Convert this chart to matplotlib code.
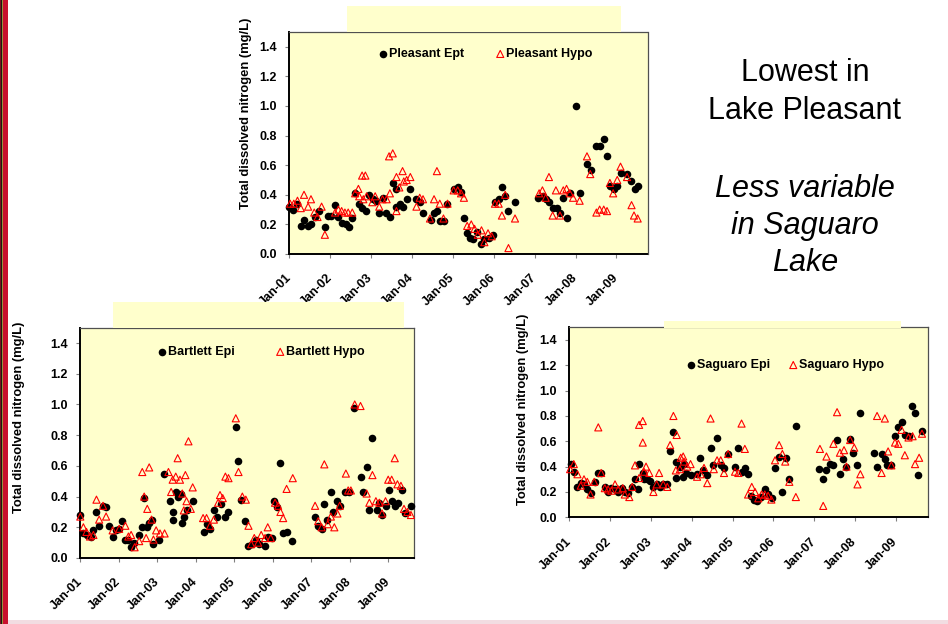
import matplotlib
matplotlib.use("Agg")
import matplotlib.pyplot as plt
from matplotlib.patches import Rectangle

plt.rcParams['font.family'] = ['Liberation Sans', 'DejaVu Sans']

# ---------------- data: total dissolved nitrogen (mg/L), decimal years ----------------
pl_epi_t = [2001.00, 2001.10, 2001.20, 2001.28, 2001.37, 2001.45, 2001.54, 2001.62, 2001.73, 2001.88, 2001.95,
            2002.03, 2002.12, 2002.20, 2002.28, 2002.38, 2002.46, 2002.54, 2002.61, 2002.71, 2002.77, 2002.87, 2002.96,
            2003.04, 2003.13, 2003.20, 2003.28, 2003.36, 2003.46, 2003.53, 2003.61, 2003.62, 2003.70, 2003.79, 2003.87, 2003.96,
            2004.10, 2004.19, 2004.27, 2004.46, 2004.54, 2004.62, 2004.68, 2004.79, 2004.86,
            2005.02, 2005.12, 2005.20, 2005.28, 2005.35, 2005.42, 2005.50, 2005.58, 2005.68, 2005.77, 2005.89, 2005.97,
            2006.03, 2006.12, 2006.19, 2006.27, 2006.36, 2006.52,
            2007.09, 2007.21, 2007.27, 2007.35, 2007.44, 2007.55, 2007.62, 2007.70, 2007.79, 2007.86,
            2008.02, 2008.10, 2008.27, 2008.37, 2008.51, 2008.59, 2008.69, 2008.77, 2008.84, 2008.93,
            2009.02, 2009.10, 2009.26, 2009.36, 2009.45, 2009.53]
pl_epi_v = [0.32, 0.30, 0.34, 0.19, 0.23, 0.19, 0.20, 0.25, 0.29, 0.18, 0.26,
            0.26, 0.33, 0.25, 0.21, 0.20, 0.18, 0.24, 0.41, 0.34, 0.31, 0.29, 0.40,
            0.37, 0.36, 0.28, 0.38, 0.28, 0.25, 0.48, 0.44, 0.32, 0.34, 0.32, 0.37, 0.44,
            0.37, 0.35, 0.28, 0.23, 0.28, 0.29, 0.22, 0.22, 0.34,
            0.44, 0.45, 0.42, 0.24, 0.14, 0.11, 0.10, 0.15, 0.07, 0.10, 0.11, 0.13,
            0.35, 0.37, 0.45, 0.39, 0.29, 0.35,
            0.38, 0.39, 0.37, 0.35, 0.31, 0.31, 0.28, 0.38, 0.24, 0.41,
            1.00, 0.41, 0.61, 0.57, 0.73, 0.73, 0.78, 0.66, 0.46, 0.44,
            0.46, 0.55, 0.54, 0.49, 0.44, 0.46]

pl_hypo_t = [2001.02, 2001.11, 2001.20, 2001.28, 2001.36, 2001.46, 2001.53, 2001.61, 2001.69, 2001.79, 2001.87,
             2002.12, 2002.20, 2002.28, 2002.36, 2002.44, 2002.54, 2002.61, 2002.69, 2002.71, 2002.78, 2002.81, 2002.86, 2002.89,
             2003.03, 2003.10, 2003.20, 2003.28, 2003.38, 2003.44, 2003.46, 2003.53, 2003.62, 2003.62, 2003.69, 2003.77, 2003.80, 2003.87, 2003.96,
             2004.11, 2004.19, 2004.27, 2004.44, 2004.54, 2004.61, 2004.68, 2004.77, 2004.87,
             2005.02, 2005.12, 2005.20, 2005.27, 2005.35, 2005.45, 2005.53, 2005.61, 2005.70, 2005.77, 2005.86, 2005.95,
             2006.03, 2006.12, 2006.20, 2006.28, 2006.36, 2006.52,
             2007.11, 2007.19, 2007.27, 2007.35, 2007.44, 2007.52, 2007.62, 2007.70, 2007.78, 2007.86, 2007.94,
             2008.10, 2008.28, 2008.36, 2008.51, 2008.59, 2008.69, 2008.77, 2008.84, 2008.92,
             2009.02, 2009.10, 2009.26, 2009.37, 2009.43, 2009.52]
pl_hypo_v = [0.34, 0.34, 0.36, 0.31, 0.40, 0.32, 0.37, 0.28, 0.25, 0.32, 0.13,
             0.28, 0.30, 0.29, 0.28, 0.28, 0.28, 0.41, 0.44, 0.39, 0.53, 0.37, 0.53, 0.39,
             0.35, 0.39, 0.32, 0.37, 0.37, 0.66, 0.41, 0.68, 0.29, 0.52, 0.45, 0.56, 0.49, 0.50, 0.52,
             0.32, 0.38, 0.37, 0.24, 0.37, 0.56, 0.34, 0.24, 0.34,
             0.43, 0.43, 0.41, 0.38, 0.19, 0.20, 0.17, 0.13, 0.16, 0.08, 0.14, 0.12,
             0.34, 0.34, 0.26, 0.40, 0.04, 0.24,
             0.41, 0.43, 0.38, 0.52, 0.26, 0.43, 0.26, 0.43, 0.44, 0.41, 0.38,
             0.36, 0.66, 0.54, 0.28, 0.30, 0.30, 0.29, 0.48, 0.41,
             0.50, 0.59, 0.52, 0.33, 0.26, 0.24]

ba_epi_t = [2001.00, 2001.08, 2001.18, 2001.27, 2001.34, 2001.42, 2001.49, 2001.59, 2001.68, 2001.75, 2001.84, 2001.94,
            2002.01, 2002.08, 2002.15, 2002.24, 2002.32, 2002.39, 2002.53, 2002.61, 2002.66, 2002.72, 2002.79, 2002.85, 2002.90,
            2003.04, 2003.17, 2003.33, 2003.40, 2003.42, 2003.48, 2003.53, 2003.61, 2003.64, 2003.69, 2003.76, 2003.92,
            2004.21, 2004.28, 2004.37, 2004.47, 2004.56, 2004.65, 2004.77, 2004.85,
            2005.04, 2005.11, 2005.18, 2005.28, 2005.37, 2005.47, 2005.56, 2005.64, 2005.81, 2005.88, 2005.97,
            2006.04, 2006.12, 2006.20, 2006.27, 2006.36, 2006.51,
            2007.10, 2007.18, 2007.27, 2007.34, 2007.42, 2007.51, 2007.57, 2007.68, 2007.74, 2007.89, 2007.99,
            2008.12, 2008.28, 2008.35, 2008.44, 2008.51, 2008.59, 2008.70, 2008.77, 2008.85, 2008.94,
            2009.01, 2009.09, 2009.17, 2009.26, 2009.35, 2009.43, 2009.59]
ba_epi_v = [0.28, 0.16, 0.15, 0.14, 0.18, 0.30, 0.21, 0.34, 0.33, 0.21, 0.14, 0.18,
            0.19, 0.24, 0.12, 0.12, 0.07, 0.10, 0.15, 0.20, 0.39, 0.20, 0.23, 0.25, 0.09,
            0.12, 0.55, 0.37, 0.25, 0.30, 0.43, 0.40, 0.42, 0.23, 0.27, 0.31, 0.37,
            0.17, 0.22, 0.19, 0.31, 0.27, 0.35, 0.27, 0.30,
            0.85, 0.63, 0.38, 0.24, 0.08, 0.09, 0.12, 0.09, 0.08, 0.14, 0.13,
            0.37, 0.33, 0.62, 0.16, 0.17, 0.11,
            0.27, 0.21, 0.19, 0.35, 0.25, 0.43, 0.30, 0.37, 0.34, 0.43, 0.43,
            0.98, 0.53, 0.43, 0.59, 0.31, 0.78, 0.31, 0.36, 0.28, 0.34,
            0.44, 0.37, 0.34, 0.36, 0.44, 0.29, 0.34]

ba_hypo_t = [2001.00, 2001.08, 2001.16, 2001.25, 2001.34, 2001.42, 2001.49, 2001.59, 2001.67, 2001.84,
             2002.01, 2002.17, 2002.25, 2002.32, 2002.41, 2002.53, 2002.61, 2002.66, 2002.71, 2002.74, 2002.79, 2002.85, 2002.90, 2002.97,
             2003.07, 2003.19, 2003.29, 2003.36, 2003.40, 2003.48, 2003.53, 2003.59, 2003.65, 2003.69, 2003.73, 2003.76, 2003.81, 2003.87, 2003.92,
             2004.19, 2004.28, 2004.37, 2004.47, 2004.58, 2004.63, 2004.70, 2004.77, 2004.85,
             2005.04, 2005.11, 2005.21, 2005.30, 2005.37, 2005.44, 2005.52, 2005.62, 2005.70, 2005.80, 2005.87, 2005.95,
             2006.06, 2006.14, 2006.20, 2006.27, 2006.36, 2006.52,
             2007.10, 2007.18, 2007.27, 2007.34, 2007.43, 2007.51, 2007.60, 2007.68, 2007.74, 2007.90, 2007.96,
             2008.03, 2008.13, 2008.28, 2008.44, 2008.51, 2008.59, 2008.68, 2008.77, 2008.84, 2008.93,
             2009.00, 2009.09, 2009.17, 2009.24, 2009.33, 2009.41, 2009.50, 2009.59]
ba_hypo_v = [0.27, 0.20, 0.17, 0.14, 0.15, 0.38, 0.25, 0.34, 0.27, 0.18,
             0.19, 0.21, 0.14, 0.15, 0.07, 0.11, 0.56, 0.40, 0.13, 0.32, 0.59, 0.25, 0.12, 0.18,
             0.16, 0.16, 0.56, 0.43, 0.51, 0.53, 0.65, 0.51, 0.42, 0.31, 0.54, 0.37, 0.76, 0.32, 0.46,
             0.26, 0.26, 0.21, 0.25, 0.36, 0.41, 0.39, 0.53, 0.52,
             0.91, 0.56, 0.40, 0.38, 0.21, 0.09, 0.13, 0.10, 0.15, 0.13, 0.20, 0.13,
             0.36, 0.34, 0.30, 0.26, 0.45, 0.52,
             0.34, 0.24, 0.20, 0.61, 0.22, 0.27, 0.20, 0.29, 0.34, 0.55, 0.44,
             0.44, 1.00, 0.99, 0.42, 0.36, 0.54, 0.37, 0.36, 0.29, 0.37,
             0.51, 0.51, 0.65, 0.48, 0.47, 0.32, 0.30, 0.28]

sa_epi_t = [2001.03, 2001.11, 2001.20, 2001.28, 2001.36, 2001.44, 2001.52, 2001.63, 2001.71, 2001.78, 2001.87, 2001.95,
            2002.03, 2002.12, 2002.20, 2002.28, 2002.36, 2002.44, 2002.54, 2002.61, 2002.69, 2002.71, 2002.80, 2002.83, 2002.91, 2002.98,
            2003.06, 2003.14, 2003.22, 2003.30, 2003.40, 2003.47, 2003.53, 2003.61, 2003.61, 2003.71, 2003.79, 2003.81, 2003.87, 2003.97,
            2004.13, 2004.20, 2004.28, 2004.38, 2004.46, 2004.53, 2004.63, 2004.71, 2004.79, 2004.89,
            2005.06, 2005.14, 2005.22, 2005.30, 2005.38, 2005.44, 2005.52, 2005.60, 2005.70, 2005.79, 2005.87, 2005.96,
            2006.04, 2006.13, 2006.22, 2006.31, 2006.39, 2006.55,
            2007.12, 2007.22, 2007.30, 2007.38, 2007.47, 2007.55, 2007.63, 2007.71, 2007.79, 2007.88, 2007.96,
            2008.05, 2008.13, 2008.46, 2008.54, 2008.65, 2008.73, 2008.79, 2008.87, 2008.98,
            2009.06, 2009.14, 2009.22, 2009.31, 2009.39, 2009.47, 2009.55, 2009.64]
sa_epi_v = [0.42, 0.36, 0.24, 0.27, 0.26, 0.22, 0.19, 0.28, 0.35, 0.35, 0.24, 0.20,
            0.23, 0.22, 0.20, 0.23, 0.20, 0.19, 0.24, 0.30, 0.22, 0.42, 0.35, 0.30, 0.30, 0.29,
            0.24, 0.26, 0.24, 0.26, 0.26, 0.52, 0.67, 0.44, 0.31, 0.40, 0.32, 0.42, 0.35, 0.33,
            0.34, 0.47, 0.37, 0.33, 0.55, 0.41, 0.63, 0.41, 0.39, 0.50,
            0.40, 0.55, 0.36, 0.39, 0.34, 0.17, 0.14, 0.13, 0.16, 0.22, 0.18, 0.15,
            0.39, 0.48, 0.20, 0.47, 0.30, 0.72,
            0.38, 0.30, 0.37, 0.42, 0.41, 0.61, 0.34, 0.46, 0.40, 0.62, 0.51,
            0.41, 0.82, 0.51, 0.40, 0.50, 0.46, 0.41, 0.41, 0.64,
            0.71, 0.75, 0.65, 0.64, 0.88, 0.82, 0.33, 0.68]

sa_hypo_t = [2001.02, 2001.11, 2001.20, 2001.28, 2001.36, 2001.44, 2001.52, 2001.61, 2001.71, 2001.78, 2001.87, 2001.95,
             2002.03, 2002.12, 2002.20, 2002.31, 2002.36, 2002.47, 2002.54, 2002.61, 2002.71, 2002.71, 2002.80, 2002.80, 2002.83, 2002.88, 2002.96,
             2003.06, 2003.14, 2003.20, 2003.30, 2003.40, 2003.47, 2003.55, 2003.61, 2003.63, 2003.71, 2003.73, 2003.79, 2003.81, 2003.89, 2003.97,
             2004.13, 2004.22, 2004.30, 2004.38, 2004.46, 2004.54, 2004.62, 2004.71, 2004.79, 2004.89,
             2005.06, 2005.14, 2005.22, 2005.30, 2005.38, 2005.47, 2005.55, 2005.63, 2005.71, 2005.79, 2005.87, 2005.95,
             2006.04, 2006.14, 2006.22, 2006.29, 2006.39, 2006.55,
             2007.14, 2007.22, 2007.30, 2007.47, 2007.56, 2007.63, 2007.73, 2007.79, 2007.88, 2007.98,
             2008.06, 2008.13, 2008.54, 2008.65, 2008.73, 2008.81, 2008.89, 2008.98,
             2009.06, 2009.14, 2009.22, 2009.31, 2009.41, 2009.47, 2009.57, 2009.64]
sa_hypo_v = [0.38, 0.42, 0.34, 0.25, 0.30, 0.28, 0.18, 0.28, 0.71, 0.35, 0.23, 0.22,
             0.21, 0.26, 0.22, 0.23, 0.18, 0.16, 0.24, 0.41, 0.73, 0.31, 0.76, 0.59, 0.36, 0.40, 0.35,
             0.20, 0.26, 0.35, 0.26, 0.24, 0.57, 0.80, 0.37, 0.65, 0.38, 0.47, 0.48, 0.44, 0.40, 0.42,
             0.32, 0.34, 0.39, 0.27, 0.78, 0.38, 0.45, 0.45, 0.35, 0.50,
             0.36, 0.35, 0.74, 0.54, 0.18, 0.24, 0.20, 0.15, 0.18, 0.18, 0.17, 0.14,
             0.45, 0.57, 0.50, 0.44, 0.28, 0.16,
             0.54, 0.09, 0.48, 0.58, 0.83, 0.51, 0.53, 0.40, 0.61, 0.55,
             0.26, 0.34, 0.80, 0.35, 0.78, 0.52, 0.41, 0.59,
             0.58, 0.69, 0.49, 0.63, 0.64, 0.42, 0.47, 0.66]

year_ticks = [2001, 2002, 2003, 2004, 2005, 2006, 2007, 2008, 2009]
year_labels = ['Jan-01', 'Jan-02', 'Jan-03', 'Jan-04', 'Jan-05', 'Jan-06', 'Jan-07', 'Jan-08', 'Jan-09']
y_ticks = [0.0, 0.2, 0.4, 0.6, 0.8, 1.0, 1.2, 1.4]
y_label = 'Total dissolved nitrogen (mg/L)'

# ---------------- figure ----------------
W, H = 948, 624
fig = plt.figure(figsize=(W / 100, H / 100), dpi=100)
fig.patch.set_facecolor('white')

PANEL = '#FFFFCC'


def px_rect(x0, y0, x1, y1, **kw):
    """Rectangle in figure pixel coordinates (origin top-left)."""
    r = Rectangle((x0 / W, 1 - y1 / H), (x1 - x0) / W, (y1 - y0) / H,
                  transform=fig.transFigure, **kw)
    fig.patches.append(r)


# slide border stripes on the left and faint line along the bottom
px_rect(0, 0, 1.2, H, facecolor='#7a1020', edgecolor='none')
px_rect(1.2, 0, 2.4, H, facecolor='#1a1a10', edgecolor='none')
px_rect(2.4, 0, 3.2, H, facecolor='#9a9040', edgecolor='none')
px_rect(3.2, 0, 7.5, H, facecolor='#c8102e', edgecolor='none')
px_rect(7.5, 620, W, 624, facecolor='#f2dde2', edgecolor='none')


def make_panel(box, header, xmax, epi_t, epi_v, hypo_t, hypo_v, names,
               leg_x, leg_y, colspace, ylab_xy):
    x0, y0, x1, y1 = box
    px_rect(header[0], header[1], header[2], header[3], facecolor=PANEL, edgecolor='none', zorder=0)
    ax = fig.add_axes([x0 / W, 1 - y1 / H, (x1 - x0) / W, (y1 - y0) / H])
    ax.set_facecolor(PANEL)
    e = ax.scatter(epi_t, epi_v, s=30, marker='o', color='black', linewidths=0,
                   label=names[0], zorder=3, clip_on=False)
    h = ax.scatter(hypo_t, hypo_v, s=26, marker='^', facecolors='none', edgecolors='red',
                   linewidths=0.8, label=names[1], zorder=4, clip_on=False)
    ax.set_xlim(2001, xmax)
    ax.set_ylim(0, 1.5)
    ax.set_yticks(y_ticks)
    ax.set_yticklabels(['%.1f' % v for v in y_ticks], fontsize=9, fontweight='bold')
    ax.set_xticks(year_ticks)
    ax.set_xticklabels(year_labels, fontsize=9, fontweight='bold', rotation=45,
                       ha='right', va='center', rotation_mode='anchor')
    ax.tick_params(axis='both', direction='out', length=3, width=0.8, color='#808080')
    ax.tick_params(axis='y', pad=6)
    ax.tick_params(axis='x', pad=13)
    for side in ('top', 'right'):
        ax.spines[side].set_color('#505050')
        ax.spines[side].set_linewidth(0.9)
    for side in ('left', 'bottom'):
        ax.spines[side].set_color('black')
        ax.spines[side].set_linewidth(1.4)
    ax.legend(handles=[e, h], ncol=2, frameon=False, loc='center left',
              bbox_to_anchor=(leg_x, leg_y), prop={'weight': 'bold', 'size': 9},
              handlelength=0.7, handletextpad=0.15, columnspacing=colspace,
              borderpad=0, borderaxespad=0, scatterpoints=1)
    fig.text(ylab_xy[0] / W, 1 - ylab_xy[1] / H, y_label, rotation=90,
             ha='center', va='center', fontsize=9.4, fontweight='bold')
    return ax


make_panel((289.3, 32, 647.5, 254), (347, 6, 621, 32), 2009.76,
           pl_epi_t, pl_epi_v, pl_hypo_t, pl_hypo_v,
           ('Pleasant Ept', 'Pleasant Hypo'), 0.249, 0.90, 2.53, (246, 113))

make_panel((80.3, 327.7, 414, 558), (113, 302, 404, 328), 2009.67,
           ba_epi_t, ba_epi_v, ba_hypo_t, ba_hypo_v,
           ('Bartlett Epi', 'Bartlett Hypo'), 0.2316, 0.894, 3.27, (19, 417))

make_panel((569.3, 327.3, 927.7, 517.3), (664, 321, 901, 328), 2009.78,
           sa_epi_t, sa_epi_v, sa_hypo_t, sa_hypo_v,
           ('Saguaro Epi', 'Saguaro Hypo'), 0.327, 0.80, 1.49, (523, 409))

# annotation text on the right
for txt, yy, style in [('Lowest in', 73, 'normal'), ('Lake Pleasant', 111, 'normal'),
                       ('Less variable', 189, 'italic'), ('in Saguaro', 226, 'italic'),
                       ('Lake', 263, 'italic')]:
    fig.text(805 / W, 1 - yy / H, txt, ha='center', va='center', fontsize=22,
             style=style, color='black')

fig.savefig('out.png', dpi=100, facecolor='white')
